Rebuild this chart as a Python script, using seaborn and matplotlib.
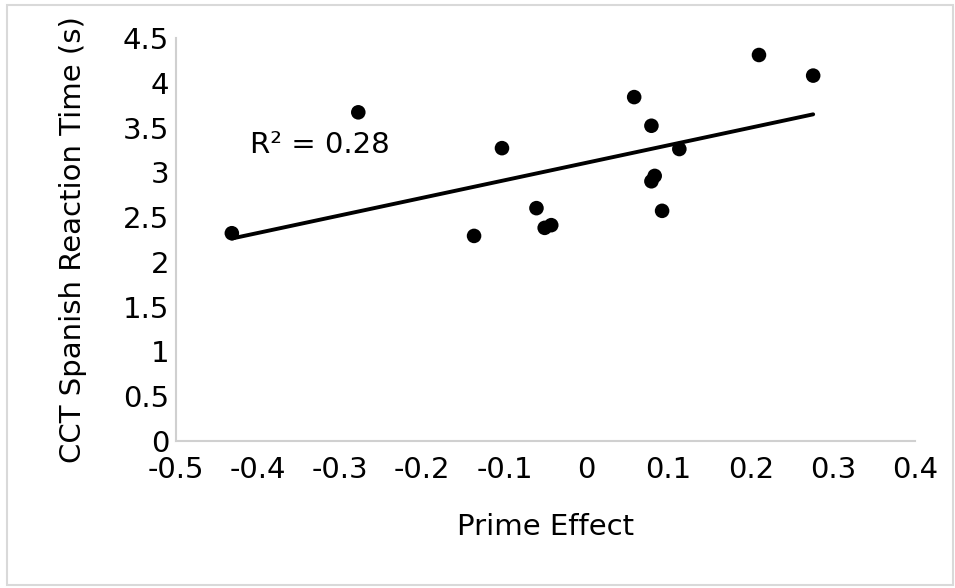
import numpy as np
import pandas as pd
import seaborn as sns
import matplotlib.pyplot as plt
from matplotlib.patches import Rectangle

# valores
prime_effect = [-0.432, -0.278, -0.137, -0.103, -0.061, -0.051, -0.043,
                0.058, 0.079, 0.083, 0.079, 0.092, 0.113, 0.210, 0.276]
reaction_time = [2.32, 3.67, 2.29, 3.27, 2.60, 2.38, 2.41,
                 3.84, 3.52, 2.96, 2.90, 2.57, 3.26, 4.31, 4.08]
x_ticks = [-0.5, -0.4, -0.3, -0.2, -0.1, 0, 0.1, 0.2, 0.3, 0.4]
x_labels = ['-0.5', '-0.4', '-0.3', '-0.2', '-0.1', '0', '0.1', '0.2', '0.3', '0.4']
y_ticks = [0, 0.5, 1, 1.5, 2, 2.5, 3, 3.5, 4, 4.5]
y_labels = ['0', '0.5', '1', '1.5', '2', '2.5', '3', '3.5', '4', '4.5']

df = pd.DataFrame({'prime': prime_effect, 'rt': reaction_time})

sns.set_style('white')
plt.rcParams['font.family'] = ['DejaVu Sans']
plt.rcParams['text.color'] = 'black'
plt.rcParams['axes.labelcolor'] = 'black'
plt.rcParams['xtick.color'] = 'black'
plt.rcParams['ytick.color'] = 'black'

fig = plt.figure(figsize=(9.55, 5.88), dpi=100)
ax = fig.add_axes([0.1843, 0.25, 0.7738, 0.6854])

sns.regplot(data=df, x='prime', y='rt', ax=ax, ci=None, truncate=True,
            scatter_kws={'s': 110, 'color': 'black', 'edgecolor': 'none', 'alpha': 1},
            line_kws={'color': 'black', 'lw': 2.8})

ax.set_xlim(-0.5, 0.4)
ax.set_ylim(0, 4.5)
ax.set_xticks(x_ticks)
ax.set_xticklabels(x_labels)
ax.set_yticks(y_ticks)
ax.set_yticklabels(y_labels)
ax.tick_params(axis='x', length=0, labelsize=21, pad=11)
ax.tick_params(axis='y', length=0, labelsize=21, pad=5)

for s in ['top', 'right']:
    ax.spines[s].set_visible(False)
for s in ['left', 'bottom']:
    ax.spines[s].set_color('#d0d0d0')
    ax.spines[s].set_linewidth(1.5)

ax.set_xlabel('Prime Effect', fontsize=21, labelpad=21)
ax.set_ylabel('CCT Spanish Reaction Time (s)', fontsize=21, labelpad=26)

ax.text(-0.41, 3.30, 'R² = 0.28', fontsize=21, va='center', ha='left')

# moldura externa
fig.patches.append(Rectangle((7 / 955, 3 / 588), 946 / 955, 580 / 588,
                             transform=fig.transFigure, fill=False,
                             edgecolor='#d9d9d9', lw=1.5))

fig.savefig('out.png', dpi=100)
